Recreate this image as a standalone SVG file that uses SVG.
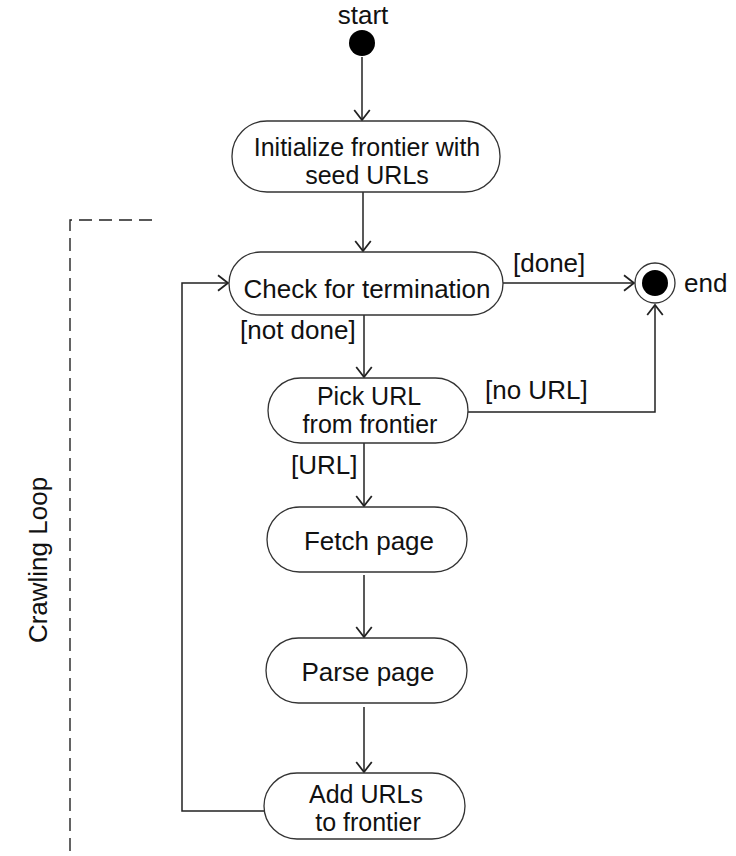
<svg xmlns="http://www.w3.org/2000/svg" width="736" height="856" viewBox="0 0 736 856">
<defs>
<style>
text{font-family:"Liberation Sans",Arial,sans-serif;font-size:26px;fill:#111;}
.c{text-anchor:middle;}
.two{font-size:25px;}
.node{fill:#fff;stroke:#333;stroke-width:1.3;}
.edge{fill:none;stroke:#222;stroke-width:1.5;}
</style>
<marker id="arr" markerUnits="userSpaceOnUse" markerWidth="20" markerHeight="20" viewBox="-11 -9 13 18" refX="0" refY="0" orient="auto">
<path d="M-9,-7 L0,0 L-9,7" fill="none" stroke="#222" stroke-width="1.6"/>
</marker>
</defs>
<rect width="736" height="856" fill="#fff"/>

<g id="loop-frame">
<path d="M152,220 H70 V856" fill="none" stroke="#222" stroke-width="1.4" stroke-dasharray="13 7"/>
<text class="c" transform="rotate(-90 47 560)" x="47" y="560">Crawling Loop</text>
</g>

<g id="connectors">
<line class="edge" x1="362" y1="57" x2="362" y2="120" marker-end="url(#arr)"/>
<line class="edge" x1="363" y1="192" x2="363" y2="251" marker-end="url(#arr)"/>
<line class="edge" x1="503" y1="283" x2="634" y2="283" marker-end="url(#arr)"/>
<line class="edge" x1="364" y1="315" x2="364" y2="377" marker-end="url(#arr)"/>
<polyline class="edge" points="468,412 655,412 655,305" marker-end="url(#arr)"/>
<line class="edge" x1="364" y1="443" x2="364" y2="506" marker-end="url(#arr)"/>
<line class="edge" x1="364" y1="575" x2="364" y2="637" marker-end="url(#arr)"/>
<line class="edge" x1="364" y1="707" x2="364" y2="772" marker-end="url(#arr)"/>
<polyline class="edge" points="264,811 182,811 182,283 228,283" marker-end="url(#arr)"/>
<text x="513" y="272">[done]</text>
<text x="240" y="339">[not done]</text>
<text x="485" y="399">[no URL]</text>
<text x="291" y="474">[URL]</text>
</g>

<g id="start">
<text class="c" x="363" y="24">start</text>
<circle cx="362" cy="43" r="13" fill="#000"/>
</g>

<g id="init">
<rect class="node" x="232" y="121" width="268" height="71" rx="35" ry="35"/>
<text class="c two" x="367" y="156">Initialize frontier with</text>
<text class="c two" x="367" y="184">seed URLs</text>
</g>

<g id="check">
<rect class="node" x="229" y="252" width="274" height="63" rx="31.5" ry="31.5"/>
<text class="c" x="367" y="298">Check for termination</text>
</g>

<g id="end">
<circle cx="655" cy="283" r="20" fill="#fff" stroke="#333" stroke-width="1.3"/>
<circle cx="655" cy="283" r="13" fill="#000"/>
<text x="684" y="292">end</text>
</g>

<g id="pick">
<rect class="node" x="268" y="378" width="200" height="65" rx="32.5" ry="32.5"/>
<text class="c two" x="369" y="405">Pick URL</text>
<text class="c two" x="370" y="433">from frontier</text>
</g>

<g id="fetch">
<rect class="node" x="267" y="507" width="200" height="65" rx="32.5" ry="32.5"/>
<text class="c" x="369" y="550">Fetch page</text>
</g>

<g id="parse">
<rect class="node" x="266" y="638" width="201" height="65" rx="32.5" ry="32.5"/>
<text class="c" x="368" y="681">Parse page</text>
</g>

<g id="add">
<rect class="node" x="264" y="773" width="201" height="66" rx="33" ry="33"/>
<text class="c two" x="366" y="803">Add URLs</text>
<text class="c two" x="368" y="831">to frontier</text>
</g>
</svg>
